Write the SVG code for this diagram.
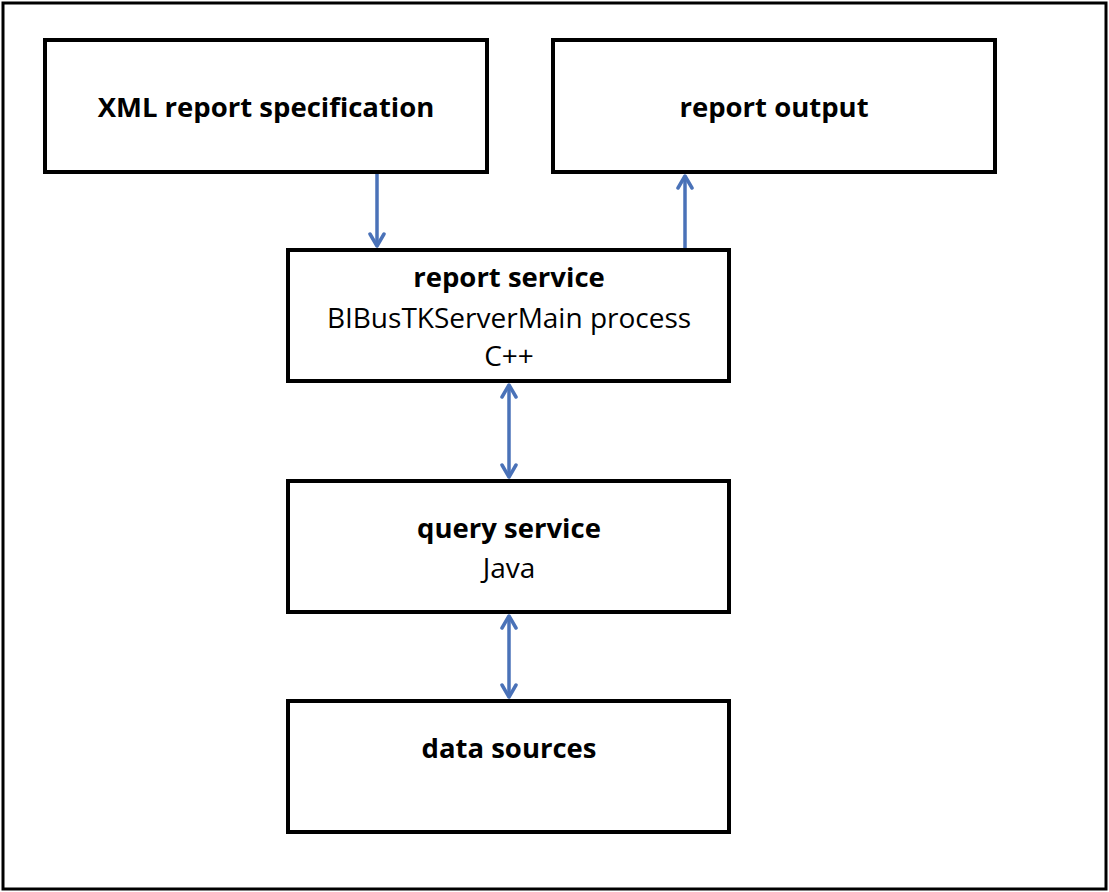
<svg xmlns="http://www.w3.org/2000/svg" width="1109" height="892" viewBox="0 0 1109 892">
<style>
.box{fill:#fff;stroke:#000;stroke-width:4}
.t{font-family:"Open Sans","Noto Sans",sans-serif;font-size:28px;fill:#000;text-anchor:middle}
.b{font-weight:bold;font-size:27.5px}
.c{stroke:#4a72b8;stroke-width:3.5;fill:none}
</style>
<defs>
<marker id="ah" viewBox="0 0 16 18" refX="14" refY="9" markerWidth="16" markerHeight="18" markerUnits="userSpaceOnUse" orient="auto-start-reverse">
<path d="M2,2 L14,9 L2,16" fill="none" stroke="#4a72b8" stroke-width="3.5" stroke-linecap="round" stroke-linejoin="round"/>
</marker>
</defs>
<rect x="0" y="0" width="1109" height="892" fill="#fff"/>
<rect x="3" y="3" width="1103" height="886" fill="none" stroke="#000" stroke-width="3"/>
<g id="connectors">
<line class="c" x1="377" y1="172" x2="377" y2="246" marker-end="url(#ah)"/>
<line class="c" x1="685" y1="249" x2="685" y2="176" marker-end="url(#ah)"/>
<line class="c" x1="509" y1="385" x2="509" y2="477" marker-start="url(#ah)" marker-end="url(#ah)"/>
<line class="c" x1="509" y1="616" x2="509" y2="697" marker-start="url(#ah)" marker-end="url(#ah)"/>
</g>
<g id="xml">
<rect class="box" x="45" y="40" width="442" height="132"/>
<text class="t b" x="266" y="117">XML report specification</text>
</g>
<g id="output">
<rect class="box" x="553" y="40" width="442" height="132"/>
<text class="t b" x="774" y="117">report output</text>
</g>
<g id="report">
<rect class="box" x="288" y="250" width="441" height="131"/>
<text class="t b" x="509" y="287">report service</text>
<text class="t" x="509" y="328">BIBusTKServerMain process</text>
<text class="t" x="509" y="366">C++</text>
</g>
<g id="query">
<rect class="box" x="288" y="481" width="441" height="131"/>
<text class="t b" x="509" y="538">query service</text>
<text class="t" x="509" y="578">Java</text>
</g>
<g id="data">
<rect class="box" x="288" y="701" width="441" height="131"/>
<text class="t b" x="509" y="758">data sources</text>
</g>
</svg>
